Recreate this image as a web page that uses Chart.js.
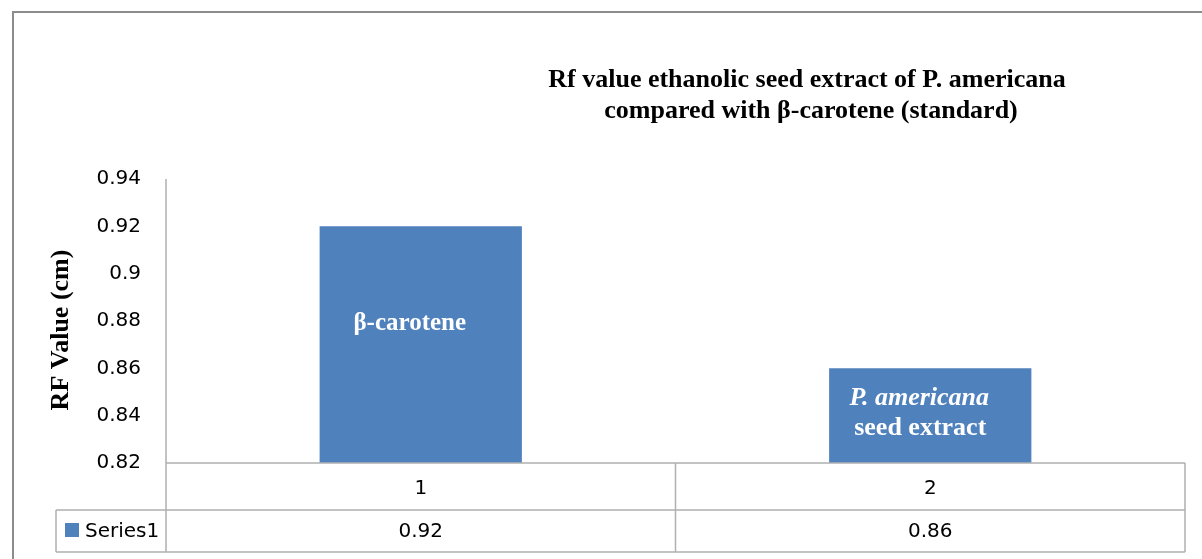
<!DOCTYPE html>
<html>
<head>
<meta charset="utf-8">
<title>Rf value chart</title>
<script src="https://cdn.jsdelivr.net/npm/chart.js@4.4.1/dist/chart.umd.min.js"></script>
<style>
  html, body { margin: 0; padding: 0; background: #fff; }
  #wrap { width: 1202px; height: 559px; }
</style>
</head>
<body>
<div id="wrap"><canvas id="rfChart" width="1202" height="559"></canvas></div>
<script>
// Chart data
const categories = ["1", "2"];
const seriesName = "Series1";
const rfValues = [0.92, 0.86];
const yTicks = [0.82, 0.84, 0.86, 0.88, 0.9, 0.92, 0.94];
const titleLines = ["Rf value ethanolic seed extract of P. americana", "compared with \u03b2-carotene (standard)"];
const yTitle = "RF Value (cm)";

const BAR_COLOR = "#4F81BD";
const LINE_COLOR = "#b0b0b0";
const SANS = "'DejaVu Sans', sans-serif";
const SERIF = "'Liberation Serif', 'Times New Roman', serif";

// Draws the outer frame, the titles, the labels inside the bars and the data table
const excelPlugin = {
  id: 'excelExtras',
  beforeDraw(chart) {
    const ctx = chart.ctx;
    ctx.save();
    ctx.strokeStyle = '#8c8c8c';
    ctx.lineWidth = 2;
    ctx.beginPath();
    ctx.moveTo(13, 560);
    ctx.lineTo(13, 12);
    ctx.lineTo(1202, 12);
    ctx.stroke();
    ctx.restore();
  },
  afterDraw(chart) {
    const ctx = chart.ctx;
    const area = chart.chartArea;
    const x = chart.scales.x;
    const meta = chart.getDatasetMeta(0);

    ctx.save();
    // chart title
    ctx.fillStyle = '#000';
    ctx.textAlign = 'center';
    ctx.textBaseline = 'middle';
    ctx.font = 'bold 26px ' + SERIF;
    ctx.fillText(titleLines[0], 807, 80);
    ctx.fillText(titleLines[1], 811, 111);

    // y axis title
    ctx.save();
    ctx.translate(61, 330);
    ctx.rotate(-Math.PI / 2);
    ctx.font = 'bold 26px ' + SERIF;
    ctx.fillText(yTitle, 0, 0);
    ctx.restore();

    // labels inside bars
    const b1 = meta.data[0], b2 = meta.data[1];
    ctx.fillStyle = '#fff';
    ctx.font = 'bold 25px ' + SERIF;
    ctx.fillText('\u03b2-carotene', b1.x - 11, b1.y + 97);
    ctx.font = 'italic bold 26px ' + SERIF;
    ctx.fillText('P. americana', b2.x - 11, b2.y + 30);
    ctx.font = 'bold 26px ' + SERIF;
    ctx.fillText('seed extract', b2.x - 10, b2.y + 60);

    // data table
    const rowTop = area.bottom;
    const rowMid = rowTop + 47;
    const rowBot = rowMid + 42;
    const legLeft = 56;
    const half = (x.getPixelForValue(1) - x.getPixelForValue(0)) / 2;
    const edges = categories.map((c, i) => x.getPixelForValue(i) + half);

    ctx.strokeStyle = LINE_COLOR;
    ctx.lineWidth = 1.5;
    ctx.beginPath();
    ctx.moveTo(area.left, rowTop); ctx.lineTo(area.right, rowTop);
    ctx.moveTo(legLeft, rowMid); ctx.lineTo(area.right, rowMid);
    ctx.moveTo(legLeft, rowBot); ctx.lineTo(area.right, rowBot);
    ctx.moveTo(legLeft, rowMid); ctx.lineTo(legLeft, rowBot);
    ctx.moveTo(area.left, area.top); ctx.lineTo(area.left, rowBot);
    edges.forEach(ex => {
      ctx.moveTo(ex, rowTop); ctx.lineTo(ex, rowBot);
    });
    ctx.stroke();

    ctx.fillStyle = '#000';
    ctx.font = '20px ' + SANS;
    ctx.textAlign = 'center';
    categories.forEach((c, i) => {
      const px = x.getPixelForValue(i);
      ctx.fillText(c, px, (rowTop + rowMid) / 2 + 2);
      ctx.fillText(rfValues[i].toFixed(2), px, (rowMid + rowBot) / 2 + 1);
    });

    // legend key in the table
    ctx.fillStyle = BAR_COLOR;
    ctx.fillRect(65, rowMid + 13, 14, 14);
    ctx.fillStyle = '#000';
    ctx.textAlign = 'left';
    ctx.fillText(seriesName, 85, (rowMid + rowBot) / 2 + 1);
    ctx.restore();
  }
};

new Chart(document.getElementById('rfChart'), {
  type: 'bar',
  data: {
    labels: categories,
    datasets: [{
      label: seriesName,
      data: rfValues,
      backgroundColor: BAR_COLOR,
      borderWidth: 0,
      categoryPercentage: 1,
      barPercentage: 0.397
    }]
  },
  options: {
    responsive: false,
    animation: false,
    layout: { padding: { left: 40, top: 179, right: 17, bottom: 96 } },
    plugins: {
      legend: { display: false },
      tooltip: { enabled: false }
    },
    scales: {
      x: { display: false },
      y: {
        min: yTicks[0],
        max: yTicks[yTicks.length - 1],
        afterBuildTicks: (scale) => { scale.ticks = yTicks.map(v => ({ value: v })); },
        afterFit: (scale) => { scale.width = 126; },
        grid: { display: false, drawTicks: false },
        border: { display: false },
        ticks: {
          padding: 25,
          color: '#000',
          font: { family: SANS, size: 20 },
          callback: (v) => parseFloat(Number(v).toFixed(2)).toString()
        }
      }
    }
  },
  plugins: [excelPlugin]
});
</script>
</body>
</html>
